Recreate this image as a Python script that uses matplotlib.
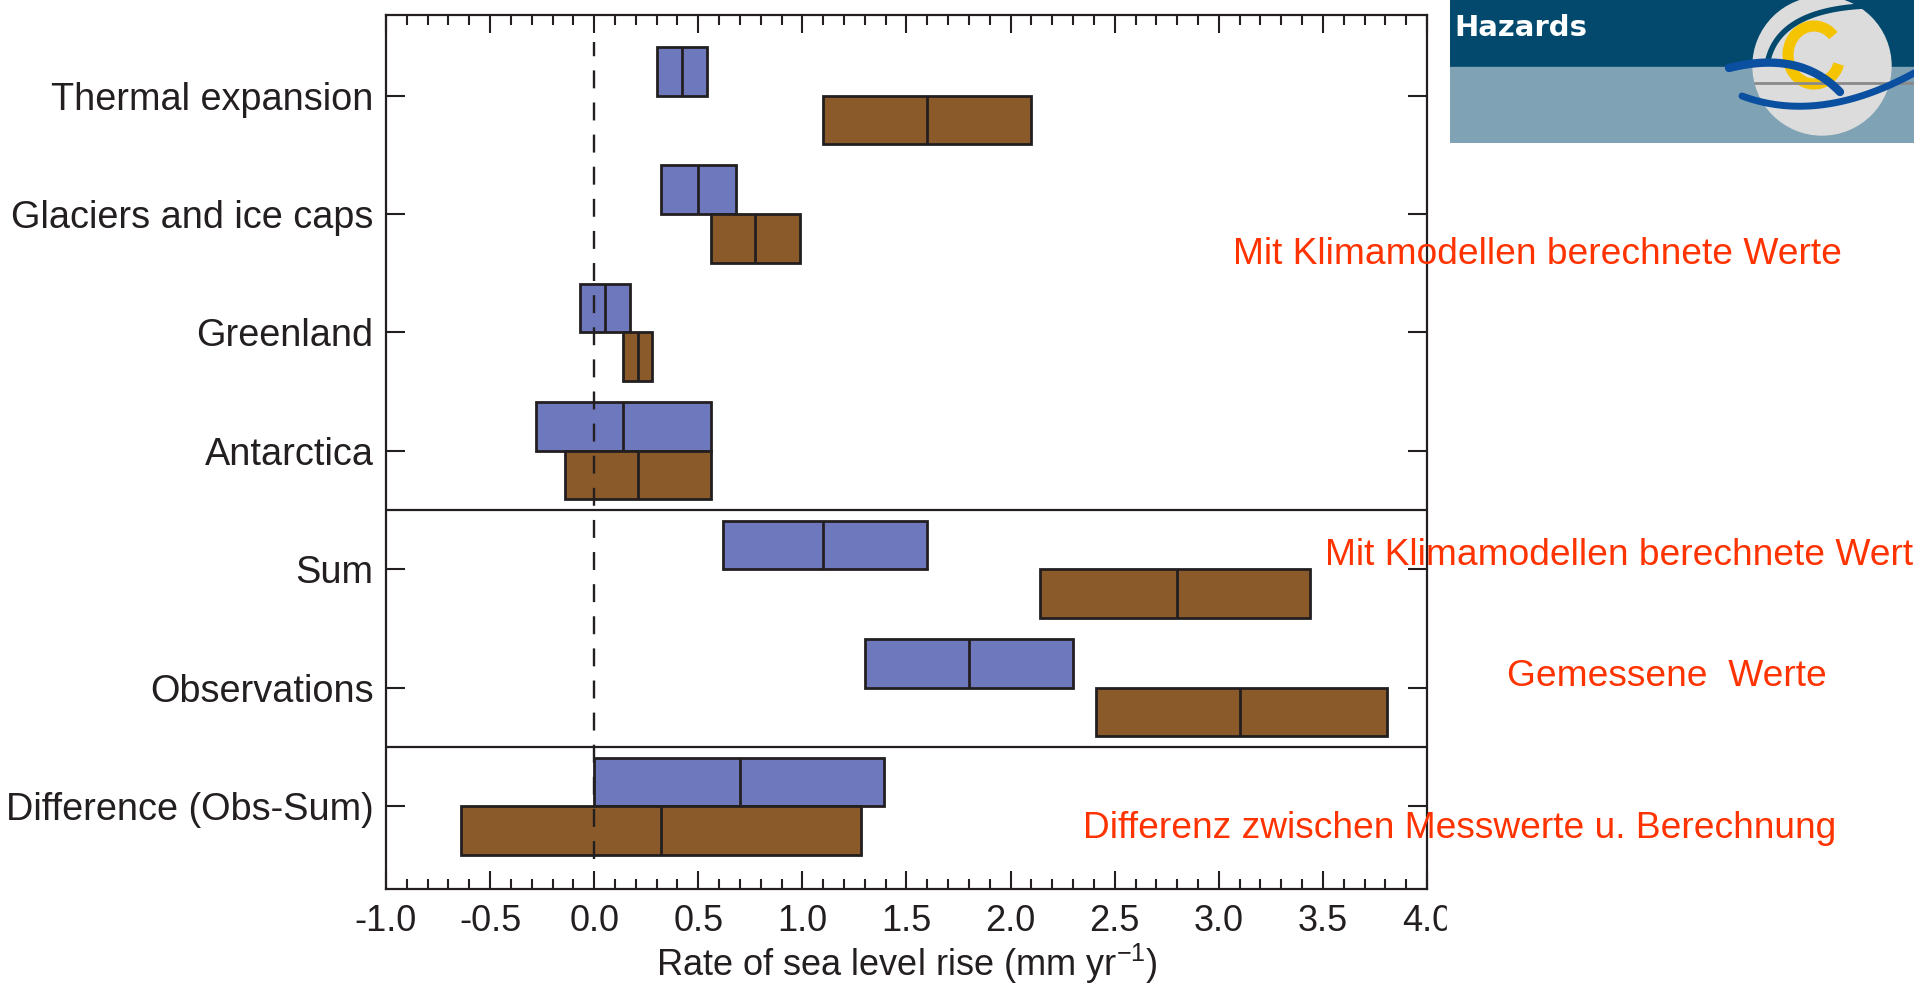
import numpy as np
import matplotlib
matplotlib.use("Agg")
import matplotlib.pyplot as plt
from matplotlib.patches import Rectangle, Circle, Arc
from matplotlib.ticker import MultipleLocator, FormatStrFormatter

plt.rcParams['font.family'] = ['Liberation Sans', 'DejaVu Sans']
plt.rcParams['axes.unicode_minus'] = False
plt.rcParams['mathtext.fontset'] = 'custom'
plt.rcParams['mathtext.rm'] = 'Liberation Sans'
plt.rcParams['mathtext.it'] = 'Liberation Sans:italic'

# data (rate of sea level rise, mm/yr): blue = 1961-2003, brown = 1993-2003
categories = ["Thermal expansion", "Glaciers and ice caps", "Greenland", "Antarctica",
              "Sum", "Observations", "Difference (Obs-Sum)"]
p1_low = [0.30, 0.32, -0.07, -0.28, 0.62, 1.30, 0.00]
p1_mid = [0.42, 0.50, 0.05, 0.14, 1.10, 1.80, 0.70]
p1_high = [0.54, 0.68, 0.17, 0.56, 1.60, 2.30, 1.39]
p2_low = [1.10, 0.56, 0.14, -0.14, 2.14, 2.41, -0.64]
p2_mid = [1.60, 0.77, 0.21, 0.21, 2.80, 3.10, 0.32]
p2_high = [2.10, 0.99, 0.28, 0.56, 3.44, 3.81, 1.28]

notes = ["Mit Klimamodellen berechnete Werte", "Mit Klimamodellen berechnete Werte",
         "Gemessene  Werte", "Differenz zwischen Messwerte u. Berechnung"]
logo_title = "Hazards"

blue = '#6E78BD'
brown = '#8B5A2B'
dark = '#231F20'
red = '#FF3300'

W, H = 1915, 984
fig = plt.figure(figsize=(W / 100, H / 100), dpi=100)
ax = fig.add_axes([386 / W, 1 - 889 / H, (1427 - 386) / W, (889 - 15) / H])

h = 0.41
y = np.arange(len(categories))
ax.barh(y - h, np.subtract(p1_high, p1_low), left=p1_low, height=h, align='edge',
        color=blue, edgecolor=dark, linewidth=2, zorder=3)
ax.vlines(p1_mid, y - h, y, color=dark, lw=2, zorder=4)
ax.barh(y, np.subtract(p2_high, p2_low), left=p2_low, height=h, align='edge',
        color=brown, edgecolor=dark, linewidth=2, zorder=3)
ax.vlines(p2_mid, y, y + h, color=dark, lw=2, zorder=4)

ax.set_xlim(-1, 4)
ax.set_ylim(6.70, -0.68)

# zero line (from just above the first bar to just below the last) and group separators
ax.axvline(0, ymin=0.034, ymax=0.969, color=dark, lw=1.7, dashes=(7.6, 6.0), zorder=5)
ax.axhline(3.5, color=dark, lw=1.6)
ax.axhline(5.5, color=dark, lw=1.6)

ax.xaxis.set_major_locator(MultipleLocator(0.5))
ax.xaxis.set_minor_locator(MultipleLocator(0.1))
ax.xaxis.set_major_formatter(FormatStrFormatter('%.1f'))
ax.set_yticks(y)
ax.set_yticklabels(categories)

ax.tick_params(axis='x', which='major', direction='in', length=13, width=1.5,
               top=True, labelsize=26, pad=11, colors=dark)
ax.tick_params(axis='x', which='minor', direction='in', length=7.5, width=1.5, top=True, colors=dark)
ax.tick_params(axis='y', direction='in', length=14, width=1.5, right=True,
               labelsize=27.3, pad=9, colors=dark)
for s in ax.spines.values():
    s.set_linewidth(1.6)
    s.set_color(dark)

ax.set_xlabel(r'Rate of sea level rise (mm yr$^{-1}$)', fontsize=26, color=dark)
ax.xaxis.label.set_va('baseline')
ax.xaxis.set_label_coords(0.5, (889 - 976) / 874)

# the right side of the last tick label is cut off in the original
fig.add_artist(Rectangle((1447 / W, 0), 1, 0.085, transform=fig.transFigure,
                         color='white', zorder=5))

# red annotations
note_x = [1233, 1325, 1507, 1083]
note_base = [264, 565, 686, 838]
for s, nx, nb in zip(notes, note_x, note_base):
    fig.text(nx / W, 1 - nb / H, s, ha='left', va='baseline', fontsize=26.7,
             color=red, zorder=6)

# logo
lax = fig.add_axes([1450 / W, 1 - 143 / H, 465 / W, 143 / H])
lax.set_xlim(0, 465)
lax.set_ylim(143, 0)
lax.axis('off')
lax.add_patch(Rectangle((0, 0), 465, 67, color='#02496D'))
lax.add_patch(Rectangle((0, 67), 465, 76, color='#7FA3B5'))
lax.add_patch(Circle((372, 66), 69, color='#DCDCDC'))
lax.plot([305, 465], [83, 83], color='#8A8A8A', lw=2)
lax.add_patch(Arc((364, 55), 52, 58, theta1=20, theta2=315, lw=8, color='#F5C400'))


def bez(p0, p1, p2, n=40):
    t = np.linspace(0, 1, n)[:, None]
    pts = (1 - t) ** 2 * np.array(p0) + 2 * (1 - t) * t * np.array(p1) + t ** 2 * np.array(p2)
    return pts[:, 0], pts[:, 1]


lax.plot(*bez((318, 60), (330, 10), (415, 6)), color='#02496D', lw=4, solid_capstyle='round')
lax.plot(*bez((279, 68), (350, 50), (390, 92)), color='#0A4FA0', lw=6, solid_capstyle='round')
lax.plot(*bez((292, 96), (370, 125), (466, 72)), color='#0A4FA0', lw=5, solid_capstyle='round')
lax.text(4, 36, logo_title, color='white', fontsize=21, fontweight='bold',
         family='DejaVu Sans', ha='left', va='baseline')

fig.savefig('out.png', dpi=100)
